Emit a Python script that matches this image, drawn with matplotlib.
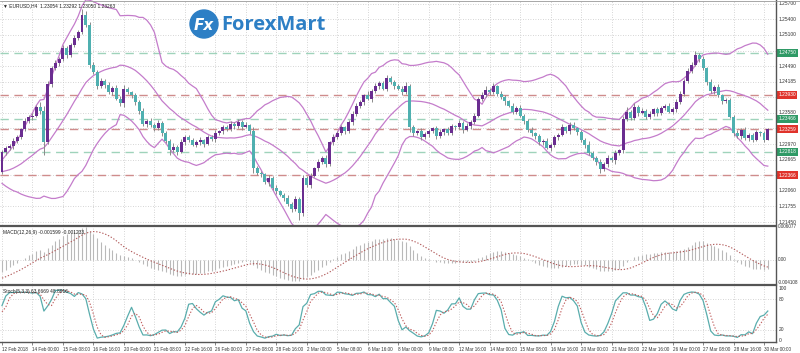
import numpy as np
import pandas as pd
import matplotlib
matplotlib.use("Agg")
import matplotlib.pyplot as plt
from matplotlib.patches import Circle

# ---------------- data (prices in pips above 1.2000) ----------------
history_close = [470, 462, 466, 455, 448, 440, 444, 430, 420, 412, 405, 398, 390, 372, 350, 330, 310, 295, 280, 272,
                 262, 250, 255, 240, 232, 238, 228, 235, 245, 240, 252, 248, 238, 230, 236, 244, 250, 240, 235, 242]
first_open = 242
close_pips = [281, 289, 294, 303, 311, 326, 342, 349, 352, 370, 361, 301, 414, 445, 455, 463, 484, 470, 490, 504,
              516, 549, 529, 451, 437, 410, 420, 412, 398, 406, 385, 376, 404, 398, 392, 378, 362, 336, 342, 334,
              328, 338, 318, 303, 286, 292, 282, 300, 310, 305, 296, 300, 304, 298, 310, 306, 318, 322, 330, 326,
              336, 332, 340, 331, 334, 322, 250, 240, 238, 222, 230, 212, 205, 198, 192, 180, 170, 190, 162, 230,
              218, 235, 250, 262, 270, 258, 300, 310, 318, 330, 322, 340, 355, 372, 378, 392, 385, 400, 410, 415,
              405, 425, 418, 410, 405, 398, 410, 330, 318, 322, 310, 316, 322, 328, 312, 320, 326, 318, 332, 330,
              338, 325, 332, 340, 352, 385, 392, 402, 398, 410, 395, 388, 380, 372, 360, 368, 352, 342, 325, 318,
              312, 300, 302, 290, 296, 310, 315, 330, 322, 335, 328, 320, 305, 296, 280, 270, 262, 248, 258, 270,
              265, 280, 285, 345, 360, 348, 370, 358, 362, 350, 355, 365, 358, 368, 372, 360, 366, 378, 395, 420,
              440, 452, 470, 462, 445, 418, 400, 408, 392, 380, 382, 350, 318, 312, 325, 308, 315, 305, 320, 318,
              305, 326]
upper_wick = [5, 4, 3, 6, 4, 3, 5, 4, 6, 3, 8, 10, 6, 4, 5, 3, 6, 4, 3, 5,
              4, 12, 8, 6, 5, 4, 6, 3, 5, 4, 6, 5, 8, 4, 3, 5, 4, 6, 3, 5,
              4, 6, 3, 5, 4, 7, 3, 6, 4, 5, 3, 4, 6, 3, 5, 4, 6, 3, 5, 4,
              5, 3, 6, 4, 5, 3, 8, 4, 5, 3, 6, 4, 5, 3, 4, 6, 4, 5, 3, 6,
              4, 5, 3, 6, 4, 5, 3, 6, 4, 5, 3, 4, 6, 4, 5, 3, 8, 4, 6, 5,
              4, 6, 5, 3, 4, 6, 8, 4, 5, 3, 6, 4, 5, 3, 4, 6, 3, 5, 4, 3,
              5, 4, 6, 3, 5, 4, 6, 8, 4, 6, 3, 5, 4, 3, 5, 4, 6, 3, 4, 5,
              3, 5, 4, 6, 3, 5, 4, 6, 3, 5, 4, 3, 5, 4, 6, 3, 4, 5, 3, 6,
              4, 5, 3, 6, 10, 4, 6, 3, 5, 4, 6, 3, 5, 4, 3, 5, 4, 6, 5, 4,
              6, 5, 8, 4, 6, 3, 5, 4, 6, 3, 5, 4, 3, 6, 4, 5, 3, 4, 5, 3,
              4, 3]
lower_wick = [4, 5, 3, 6, 4, 5, 3, 4, 6, 3, 5, 25, 4, 6, 3, 5, 4, 6, 3, 4,
              5, 4, 3, 6, 4, 5, 3, 6, 4, 5, 3, 4, 6, 3, 5, 4, 6, 3, 5, 4,
              6, 3, 5, 4, 10, 4, 6, 3, 5, 4, 3, 5, 4, 6, 3, 4, 5, 3, 6, 4,
              3, 5, 4, 6, 3, 5, 10, 4, 5, 3, 6, 4, 5, 3, 6, 4, 5, 4, 14, 5,
              4, 6, 3, 5, 4, 6, 3, 5, 4, 3, 5, 4, 6, 3, 5, 4, 3, 6, 4, 5,
              3, 5, 4, 6, 3, 5, 4, 10, 5, 4, 6, 3, 5, 4, 6, 3, 5, 4, 3, 5,
              4, 6, 3, 5, 4, 3, 5, 4, 6, 3, 5, 4, 6, 3, 5, 4, 3, 6, 4, 5,
              6, 4, 5, 3, 6, 4, 5, 3, 4, 6, 3, 5, 4, 6, 5, 4, 6, 8, 4, 5,
              3, 6, 4, 5, 3, 5, 4, 6, 3, 5, 4, 3, 6, 4, 5, 3, 4, 6, 3, 5,
              4, 5, 3, 6, 4, 5, 3, 6, 4, 5, 4, 3, 6, 4, 5, 3, 6, 4, 3, 5,
              4, 1]
date_labels = ["12 Feb 2018", "14 Feb 00:00", "15 Feb 08:00", "16 Feb 16:00", "20 Feb 00:00", "21 Feb 08:00",
               "22 Feb 16:00", "26 Feb 00:00", "27 Feb 08:00", "28 Feb 16:00", "2 Mar 00:00", "5 Mar 08:00",
               "6 Mar 16:00", "8 Mar 00:00", "9 Mar 08:00", "12 Mar 16:00", "14 Mar 00:00", "15 Mar 08:00",
               "16 Mar 16:00", "20 Mar 00:00", "21 Mar 08:00", "22 Mar 16:00", "26 Mar 00:00", "27 Mar 08:00",
               "28 Mar 16:00", "30 Mar 00:00"]
price_ticks = [1.25700, 1.25400, 1.25100, 1.24490, 1.24185, 1.23580, 1.22970, 1.22665, 1.22060, 1.21755, 1.21450]
grid_prices = [1.25700, 1.25400, 1.25100, 1.24790, 1.24490, 1.24185, 1.23880, 1.23580, 1.23275, 1.22970,
               1.22665, 1.22365, 1.22060, 1.21755, 1.21450]
level_prices = [1.24750, 1.23930, 1.23466, 1.23259, 1.22818, 1.22366]
level_kinds = ["g", "r", "g", "r", "g", "r"]
header_text = "EURUSD,H4  1.23054 1.23292 1.23050 1.23263"
macd_text = "MACD(12,26,9) -0.001599 -0.001233"
stoch_text = "Stoch(5,3,3) 63.6669 48.8916"

# ---------------- derived series ----------------
P = lambda v: 1.2 + np.asarray(v, dtype=float) / 10000.0
c = P(close_pips)
n = len(c)
o = np.concatenate([[P(first_open)], c[:-1]])
h = np.maximum(o, c) + np.asarray(upper_wick) / 10000.0
l = np.minimum(o, c) - np.asarray(lower_wick) / 10000.0
hc = P(history_close)
ho = np.concatenate([[hc[0]], hc[:-1]])
allc = pd.Series(np.concatenate([hc, c]))
allh = pd.Series(np.concatenate([np.maximum(ho, hc), h]))
alll = pd.Series(np.concatenate([np.minimum(ho, hc), l]))
nh = len(hc)

mid = allc.rolling(20).mean()
sd = allc.rolling(20).std(ddof=0)
bb_up = (mid + 2 * sd).values[nh:]
bb_mid = mid.values[nh:]
bb_lo = (mid - 2 * sd).values[nh:]

macd = (allc.ewm(span=12, adjust=False).mean() - allc.ewm(span=26, adjust=False).mean())
sig = macd.rolling(9).mean()
macd_v = macd.values[nh:]
sig_v = sig.values[nh:]

hh = allh.rolling(5).max()
ll = alll.rolling(5).min()
K = 100 * (allc - ll).rolling(3).sum() / (hh - ll).rolling(3).sum()
D = K.rolling(3).mean()
K_v = K.values[nh:]
D_v = D.values[nh:]

# ---------------- figure ----------------
W, H = 800, 353
fig = plt.figure(figsize=(8, 3.53), dpi=100)
plt.rcParams["font.family"] = ["Liberation Sans", "DejaVu Sans"]


def ax_px(x0, y0, x1, y1):
    return fig.add_axes([x0 / W, 1 - y1 / H, (x1 - x0) / W, (y1 - y0) / H])


PX = 3.81
XL = (-2 / PX, (776 - 2) / PX)
idx = np.arange(n)
tick_pos = np.arange(len(date_labels)) * 8

ax = ax_px(0, 0, 776, 225)
ax2 = ax_px(0, 226, 776, 284)
ax3 = ax_px(0, 286, 776, 342)

top_p = 1.2145 + 222 / 5130
bot_p = 1.2145 - 3 / 5130
GRID = dict(color="#c8c8c8", lw=0.6, ls=(0, (1, 2)))

for a in (ax, ax2, ax3):
    a.set_xlim(*XL)
    a.set_facecolor("white")
    for t in tick_pos:
        a.axvline(t, **GRID, zorder=0)
    a.set_xticks([])
    a.set_yticks([])
    for s in a.spines.values():
        s.set_visible(False)

ax.set_ylim(bot_p, top_p)
for gp in grid_prices:
    ax.axhline(gp, **GRID, zorder=0)

lvl_col = {"g": "#9fd3bb", "r": "#cf8c8c"}
box_col = {"g": "#2f9a66", "r": "#e0332b"}
for lp, k in zip(level_prices, level_kinds):
    ax.axhline(lp, color=lvl_col[k], lw=1.0, ls=(0, (6, 4)), zorder=1)

for band in (bb_up, bb_mid, bb_lo):
    ax.plot(idx, band, color="#c47ccb", lw=0.9, zorder=2)

bull = c >= o
ax.vlines(idx, l, h, color="#8a8a8a", lw=0.7, zorder=3)
ax.bar(idx[bull], (c - o)[bull], bottom=o[bull], width=0.78, color="#6a2d90", zorder=4, linewidth=0)
ax.bar(idx[~bull], (o - c)[~bull], bottom=c[~bull], width=0.78, color="#4fb0b0", zorder=4, linewidth=0)

fs = 3.5
for p in price_ticks:
    ax.text(1.003, (p - bot_p) / (top_p - bot_p), f"{p:.5f}", transform=ax.transAxes,
            fontsize=fs, va="center", ha="left", color="#333333")
for lp, k in zip(level_prices, level_kinds):
    ax.text(1.003, (lp - bot_p) / (top_p - bot_p), f"{lp:.5f}", transform=ax.transAxes,
            fontsize=fs, va="center", ha="left", color="white",
            bbox=dict(boxstyle="square,pad=0.3", fc=box_col[k], ec="none"))

ax.text(0.004, 0.985, "\u25bc " + header_text, transform=ax.transAxes, fontsize=fs,
        va="top", ha="left", color="#222222")

# logo
logo = fig.add_axes([0, 0, 1, 1], facecolor="none")
logo.set_xlim(0, W)
logo.set_ylim(H, 0)
logo.axis("off")
logo.add_patch(Circle((204, 24), 14, color="#2d7fc5"))
logo.text(204, 25, "Fx", color="white", fontsize=11, fontweight="bold", ha="center", va="center",
          style="italic", family=["DejaVu Sans"])
logo.text(221, 25, "ForexMart", color="#2d7fc5", fontsize=14.5, fontweight="bold", ha="left",
          va="center", family=["Open Sans", "DejaVu Sans"])

# MACD panel
m_top = 0.006077 + 1 * 0.010185 / 55
m_bot = -0.004108 - 2 * 0.010185 / 55
ax2.set_ylim(m_bot, m_top)
ax2.axhline(0, **GRID, zorder=0)
ax2.vlines(idx, 0, macd_v, color="#b9b9b9", lw=0.8, zorder=2)
ax2.plot(idx, sig_v, color="#b25c5c", lw=0.8, ls=(0, (1.2, 1.6)), zorder=3)
ax2.text(0.004, 0.93, macd_text, transform=ax2.transAxes, fontsize=fs, va="top", ha="left", color="#222222")
for val, lab in ((0.006077, "0.006077"), (0.0, "0.00"), (-0.004108, "-0.004108")):
    ax2.text(1.002, (val - m_bot) / (m_top - m_bot), lab, transform=ax2.transAxes, fontsize=3.3,
             va="center", ha="left", color="#333333")

# Stoch panel
s_top = 100 + 3 / 0.51
s_bot = -2 / 0.51
ax3.set_ylim(s_bot, s_top)
for lv in (20, 80):
    ax3.axhline(lv, **GRID, zorder=0)
ax3.plot(idx, K_v, color="#5aadad", lw=0.9, zorder=3)
ax3.plot(idx, D_v, color="#c05e5e", lw=0.8, ls=(0, (1.2, 1.6)), zorder=3)
ax3.text(0.004, 0.95, stoch_text, transform=ax3.transAxes, fontsize=fs, va="top", ha="left", color="#222222")
for val in (100, 80, 20, 0):
    ax3.text(1.004, (val - s_bot) / (s_top - s_bot), str(val), transform=ax3.transAxes, fontsize=fs,
             va="center", ha="left", color="#333333")
ax3.set_xticks(tick_pos)
ax3.set_xticklabels(date_labels, fontsize=3.3, ha="left", color="#333333")
ax3.tick_params(axis="x", length=2, width=0.5, pad=1.5, color="#555555")

# frame / separators
logo.plot([776, 776], [0, 342], color="#555555", lw=1.0)
for yy in (225.5, 285, 342):
    logo.plot([0, 776], [yy, yy], color="#555555", lw=1.6 if yy != 342 else 1.0)
logo.plot([0, 800], [0.5, 0.5], color="#999999", lw=0.6)

fig.savefig("out.png", dpi=100, facecolor="white")
